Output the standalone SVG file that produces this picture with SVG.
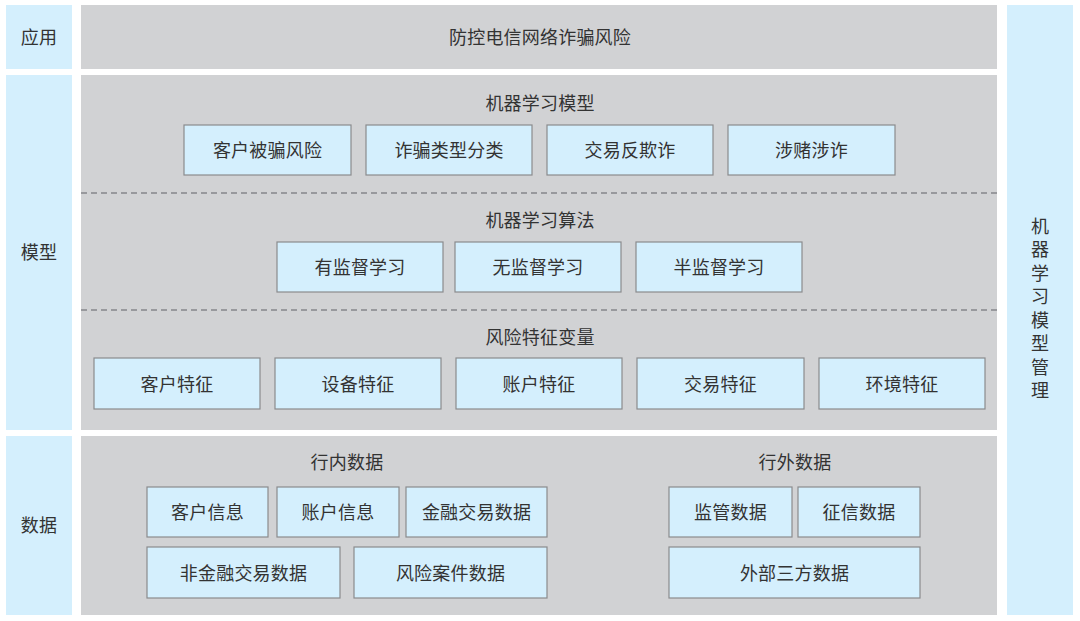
<svg xmlns="http://www.w3.org/2000/svg" width="1080" height="621" viewBox="0 0 1080 621">
<style>
.side{fill:#d4effd}
.panel{fill:#d1d2d4}
.box rect{fill:#d4effd;stroke:#8a8b8d;stroke-width:1.2}
text{font-family:"Noto Sans CJK SC","Noto Sans",sans-serif;font-size:18px;letter-spacing:0.2px;fill:#333;text-anchor:middle;dominant-baseline:central}
.vert{writing-mode:vertical-rl;letter-spacing:5.5px;dominant-baseline:auto}
.dash{stroke:#85868a;stroke-width:1.5;stroke-dasharray:6 4;fill:none}
</style>
<rect width="1080" height="621" fill="#fff"/>
<g id="side-labels">
<g id="lbl-app"><rect class="side" x="6" y="5" width="66" height="64"/><text x="39" y="36">应用</text></g>
<g id="lbl-model"><rect class="side" x="6" y="75" width="66" height="355"/><text x="39" y="251">模型</text></g>
<g id="lbl-data"><rect class="side" x="6" y="436" width="66" height="179"/><text x="39" y="524">数据</text></g>
</g>
<g id="panels">
<g id="panel-app"><rect class="panel" x="81" y="5" width="916" height="64"/><text x="540" y="36">防控电信网络诈骗风险</text></g>
<g id="panel-model"><rect class="panel" x="81" y="75" width="916" height="355"/>
<text x="540" y="102">机器学习模型</text>
<text x="540" y="219">机器学习算法</text>
<text x="540" y="336">风险特征变量</text>
</g>
<g id="panel-data"><rect class="panel" x="81" y="436" width="916" height="179"/>
<text x="347" y="461">行内数据</text>
<text x="795" y="461">行外数据</text>
</g>
</g>
<g id="connectors">
<line class="dash" x1="81" y1="193" x2="997" y2="193"/>
<line class="dash" x1="81" y1="310" x2="997" y2="310"/>
</g>
<g id="mgmt"><rect class="side" x="1007" y="5" width="66" height="610"/>
<text class="vert" x="1040" y="311">机器学习模型管理</text>
</g>
<g id="m1" class="box"><rect x="184" y="125" width="167" height="50"/><text x="267.5" y="149">客户被骗风险</text></g>
<g id="m2" class="box"><rect x="366" y="125" width="166" height="50"/><text x="449" y="149">诈骗类型分类</text></g>
<g id="m3" class="box"><rect x="547" y="125" width="166" height="50"/><text x="630" y="149">交易反欺诈</text></g>
<g id="m4" class="box"><rect x="728" y="125" width="167" height="50"/><text x="811.5" y="149">涉赌涉诈</text></g>
<g id="a1" class="box"><rect x="277" y="242" width="166" height="50"/><text x="360" y="266">有监督学习</text></g>
<g id="a2" class="box"><rect x="455" y="242" width="166" height="50"/><text x="538" y="266">无监督学习</text></g>
<g id="a3" class="box"><rect x="636" y="242" width="166" height="50"/><text x="719" y="266">半监督学习</text></g>
<g id="f1" class="box"><rect x="94" y="358" width="166" height="51"/><text x="177" y="382.5">客户特征</text></g>
<g id="f2" class="box"><rect x="275" y="358" width="166" height="51"/><text x="358" y="382.5">设备特征</text></g>
<g id="f3" class="box"><rect x="456" y="358" width="166" height="51"/><text x="539" y="382.5">账户特征</text></g>
<g id="f4" class="box"><rect x="637" y="358" width="167" height="51"/><text x="720.5" y="382.5">交易特征</text></g>
<g id="f5" class="box"><rect x="819" y="358" width="166" height="51"/><text x="902" y="382.5">环境特征</text></g>
<g id="d1" class="box"><rect x="147" y="487" width="121" height="50"/><text x="207.5" y="511">客户信息</text></g>
<g id="d2" class="box"><rect x="277" y="487" width="122" height="50"/><text x="338" y="511">账户信息</text></g>
<g id="d3" class="box"><rect x="406" y="487" width="141" height="50"/><text x="476.5" y="511">金融交易数据</text></g>
<g id="d4" class="box"><rect x="147" y="547" width="193" height="51"/><text x="243.5" y="571.5">非金融交易数据</text></g>
<g id="d5" class="box"><rect x="354" y="547" width="193" height="51"/><text x="450.5" y="571.5">风险案件数据</text></g>
<g id="e1" class="box"><rect x="669" y="487" width="123" height="50"/><text x="730.5" y="511">监管数据</text></g>
<g id="e2" class="box"><rect x="798" y="487" width="122" height="50"/><text x="859" y="511">征信数据</text></g>
<g id="e3" class="box"><rect x="669" y="547" width="251" height="51"/><text x="794.5" y="571.5">外部三方数据</text></g>
</svg>
